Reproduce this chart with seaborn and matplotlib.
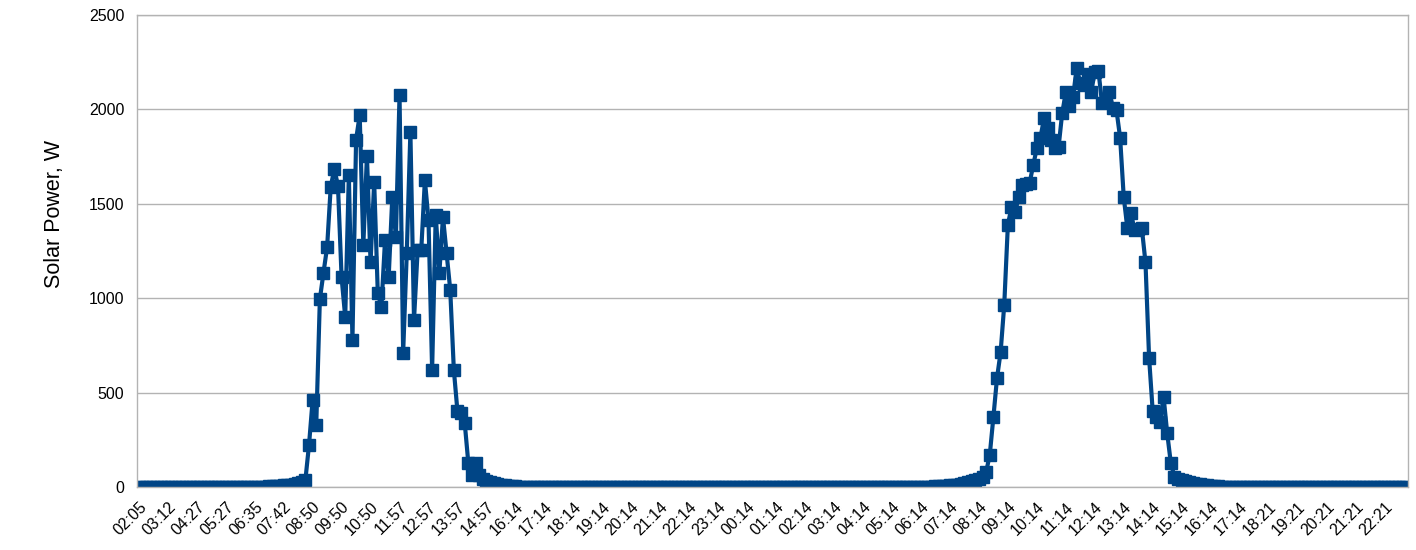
import numpy as np
import pandas as pd
import matplotlib
matplotlib.use('Agg')
import matplotlib.pyplot as plt
import seaborn as sns

# one reading per category, a label every 8th category
n_points = 351
label_step = 8

tick_labels = ['02:05', '03:12', '04:27', '05:27', '06:35', '07:42', '08:50', '09:50',
               '10:50', '11:57', '12:57', '13:57', '14:57', '16:14', '17:14', '18:14',
               '19:14', '20:14', '21:14', '22:14', '23:14', '00:14', '01:14', '02:14',
               '03:14', '04:14', '05:14', '06:14', '07:14', '08:14', '09:14', '10:14',
               '11:14', '12:14', '13:14', '14:14', '15:14', '16:14', '17:14', '18:21',
               '19:21', '20:21', '21:21', '22:21']

# first day, starting at category 34 (everything else is 0)
day1_first = 34
day1_power = [1, 2, 3, 4, 5, 6, 8, 10, 13, 17, 22, 28,
              37, 222, 460, 328, 995, 1135, 1270, 1590, 1685, 1595,
              1110, 900, 1650, 780, 1840, 1970, 1280, 1755, 1190, 1615,
              1025, 955, 1310, 1110, 1535, 1325, 2075, 710, 1240, 1880,
              885, 1255, 1255, 1625, 1415, 620, 1440, 1135, 1430, 1240,
              1045, 620, 400, 390, 340, 127, 65, 125, 65,
              40, 32, 26, 20, 15, 11, 8, 6, 4, 3, 2, 1, 1]

# second day, starting at category 220
day2_first = 220
day2_power = [3, 4, 5, 6, 8, 10, 12, 15, 20, 25, 30, 37, 45, 53, 80,
              170, 370, 577, 715, 965, 1388, 1483, 1456, 1535, 1600,
              1605, 1610, 1705, 1795, 1850, 1955, 1900, 1840, 1795, 1800,
              1980, 2090, 2020, 2065, 2220, 2140, 2130, 2190, 2090, 2200,
              2205, 2035, 2050, 2090, 2010, 1995, 1850, 1535, 1370, 1450,
              1360, 1365, 1370, 1190, 685, 400, 370, 345, 478, 285, 127, 55,
              45, 38, 32, 27, 22, 18, 14, 11, 8, 6, 4, 3, 2, 1]

power = np.zeros(n_points)
power[day1_first:day1_first + len(day1_power)] = day1_power
power[day2_first:day2_first + len(day2_power)] = day2_power
df = pd.DataFrame({'idx': np.arange(n_points), 'power': power})

sns.set_style('white')
plt.rcParams['font.family'] = ['Liberation Sans', 'DejaVu Sans']
plt.rcParams['text.color'] = 'black'
plt.rcParams['axes.labelcolor'] = 'black'
plt.rcParams['xtick.color'] = 'black'
plt.rcParams['ytick.color'] = 'black'

fig = plt.figure(figsize=(14.16, 5.5), dpi=100)
ax = fig.add_axes([137 / 1416, 63 / 550, 1271 / 1416, 472 / 550])

sns.lineplot(data=df, x='idx', y='power', ax=ax, color='#004586',
             linewidth=3, marker='s', markersize=8.5,
             markeredgecolor='#004586', markeredgewidth=1)

ax.set_xlim(-0.5, n_points - 0.5)
ax.set_ylim(0, 2500)
ax.set_yticks(range(0, 2501, 500))
ax.set_axisbelow(True)
ax.grid(axis='y', color='#b3b3b3', linewidth=1)

ax.set_xticks(np.arange(len(tick_labels)) * label_step)
ax.set_xticklabels(tick_labels, rotation=45, ha='right', rotation_mode='anchor',
                   fontsize=11.5)
ax.set_xticks(np.arange(n_points + 1) - 0.5, minor=True)
ax.tick_params(axis='x', which='major', length=0, pad=9)
ax.tick_params(axis='x', which='minor', direction='in', length=5,
               color='#b3b3b3', width=0.8)
ax.tick_params(axis='y', length=0, pad=9, labelsize=11.5)

ax.set_xlabel('')
ax.set_ylabel('Solar Power, W', fontsize=15.5)
ax.yaxis.set_label_coords(-0.057, 0.578)

for s in ax.spines.values():
    s.set_color('#b3b3b3')
    s.set_linewidth(1)

fig.savefig('out.png', dpi=100)
